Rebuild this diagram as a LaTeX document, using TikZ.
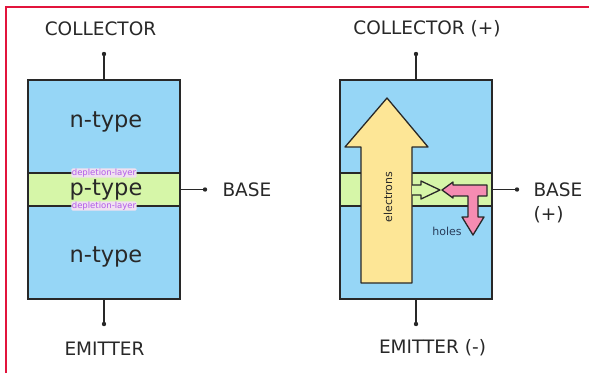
\documentclass[tikz,border=0pt]{standalone}
\usepackage{fontspec}
\setmainfont{DejaVu Sans}
\usepackage{tikz}
\usetikzlibrary{calc}
\definecolor{ntypeblue}{RGB}{150,214,246}
\definecolor{ptypegreen}{RGB}{214,246,168}
\definecolor{electronyellow}{RGB}{253,230,150}
\definecolor{holepink}{RGB}{245,140,178}
\definecolor{depletionpurple}{RGB}{178,92,232}
\definecolor{framered}{RGB}{226,20,60}
\definecolor{inkgray}{RGB}{40,40,40}
\definecolor{holetext}{RGB}{40,60,90}

\tikzset{
  nregion/.style={draw=inkgray, fill=ntypeblue, line width=1.8pt, minimum width=152pt, minimum height=219pt, inner sep=0pt},
  pregion/.style={draw=inkgray, fill=ptypegreen, line width=1.6pt, minimum width=152pt, minimum height=33pt, inner sep=0pt},
  wire/.style={inkgray, line width=1.6pt},
  terminal/.style={font=\fontsize{18.5}{20}\selectfont, text=inkgray},
  doping/.style={font=\fontsize{22.5}{23}\selectfont, text=inkgray},
  deplabel/.style={font=\fontsize{8.5}{9}\selectfont, text=depletionpurple, fill=violet!12, rounded corners=2pt, inner sep=0.6pt},
  flow/.style={draw=inkgray, line width=1.3pt, line join=round},
}

\begin{document}
\begin{tikzpicture}[x=1pt,y=-1pt]
    \useasboundingbox (0,0) rectangle (589,373);
    % Frame
    \draw[framered, line width=2pt] (5.5,373) -- (5.5,6.5) -- (589,6.5);

    % Left transistor: layers
    \node[nregion] (lbox) at (104,189.5) {};
    \node[pregion] (lband) at (104,189.5) {};
    \node[doping] (ltopn) at (106,122) {n-type};
    \node[doping] (lmidp) at (106,190) {p-type};
    \node[doping] (lbotn) at (106,257) {n-type};
    \node[deplabel] (ldeptop) at (104,173) {depletion-layer};
    \node[deplabel] (ldepbot) at (104,206) {depletion-layer};

    % Left transistor: terminals
    \coordinate (lcol) at (104,54);
    \coordinate (lemit) at (104,324);
    \coordinate (lbase) at (205,189.5);
    \draw[wire] (lbox.north) -- (lcol);
    \draw[wire] (lbox.south) -- (lemit);
    \draw[wire] (lband.east) -- (lbase);
    \fill[inkgray] (lcol) circle (2.2pt);
    \fill[inkgray] (lemit) circle (2.2pt);
    \fill[inkgray] (lbase) circle (2.2pt);
    \node[terminal] (lcollabel) at (100.5,29) {COLLECTOR};
    \node[terminal] (lemitlabel) at (104.5,349) {EMITTER};
    \node[terminal, anchor=west] (lbaselabel) at (219,190) {BASE};

    % Right transistor: layers
    \node[nregion] (rbox) at (416,189.5) {};
    \node[pregion] (rband) at (416,189.5) {};

    % Electron flow
    \draw[flow, fill=electronyellow] (361,283) -- (361,147) -- (345,147) -- (387,98)
        -- (428,147) -- (412,147) -- (412,283) -- cycle;
    \node[font=\fontsize{11}{12}\selectfont, text=inkgray, rotate=90] (electrons) at (388,197) {electrons};
    \draw[flow, fill=ptypegreen] (412,185) -- (421,185) -- (421,181) -- (440,190)
        -- (421,199) -- (421,195) -- (412,195);

    % Hole flow
    \draw[flow, fill=holepink] (442,190) -- (453,182) -- (453,185) -- (487,185) -- (487,196)
        -- (478,196) -- (478,217) -- (484,217) -- (473,235) -- (462,217) -- (468,217)
        -- (468,196) -- (453,196) -- (453,198) -- cycle;
    \node[font=\fontsize{11}{12}\selectfont, text=holetext] (holes) at (447,231) {holes};

    % Right transistor: terminals
    \coordinate (rcol) at (416,54);
    \coordinate (remit) at (416,324);
    \coordinate (rbase) at (517,189.5);
    \draw[wire] (rbox.north) -- (rcol);
    \draw[wire] (rbox.south) -- (remit);
    \draw[wire] (rband.east) -- (rbase);
    \fill[inkgray] (rcol) circle (2.2pt);
    \fill[inkgray] (remit) circle (2.2pt);
    \fill[inkgray] (rbase) circle (2.2pt);
    \node[terminal] (rcollabel) at (427,29) {COLLECTOR (+)};
    \node[terminal] (remitlabel) at (432.5,348) {EMITTER (-)};
    \node[terminal, anchor=west] (rbaselabel) at (530,190) {BASE};
    \node[terminal, anchor=west] (rbasesign) at (530,215) {(+)};
\end{tikzpicture}
\end{document}
